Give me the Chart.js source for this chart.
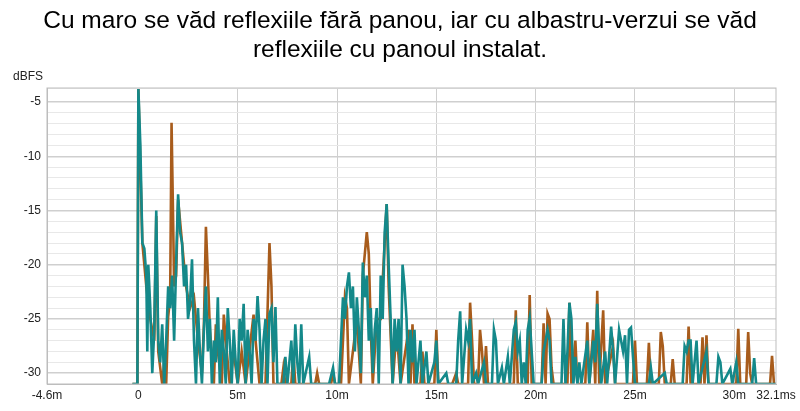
<!DOCTYPE html>
<html><head><meta charset="utf-8">
<script src="https://cdn.jsdelivr.net/npm/chart.js@4"></script>
<style>html,body{margin:0;padding:0;background:#fff}#w{width:800px;height:411px}</style>
</head><body><div id="w"><canvas id="c"></canvas></div>
<script>
const titleLines = ["Cu maro se văd reflexiile fără panou, iar cu albastru-verzui se văd","reflexiile cu panoul instalat."];
const yUnit = "dBFS";
const xTickValues = [-4.6,0,5,10,15,20,25,30,32.1];
const xTickLabels = ["-4.6m","0","5m","10m","15m","20m","25m","30m","32.1ms"];
const tealPoints = [[-0.3,-31],[-0.05,-31],[0,-3.8],[0.1,-9],[0.2,-18],[0.3,-18.5],[0.4,-21],[0.45,-28],[0.5,-20],[0.6,-24],[0.7,-30],[0.8,-26],[0.9,-15],[1,-27],[1.1,-29],[1.2,-25.5],[1.3,-31],[1.4,-27],[1.5,-22],[1.6,-24],[1.7,-21],[1.8,-27],[1.9,-20],[2,-13.5],[2.1,-17],[2.2,-18],[2.3,-22],[2.4,-20],[2.5,-25],[2.6,-23.5],[2.7,-19.5],[2.8,-27],[2.9,-31],[3,-24],[3.1,-28],[3.2,-31],[3.3,-26],[3.4,-22],[3.5,-28],[3.6,-25],[3.7,-31],[3.8,-27],[3.9,-29],[4,-23],[4.1,-31],[4.2,-26],[4.3,-28],[4.4,-31],[4.5,-24],[4.6,-27],[4.7,-31],[4.8,-26],[4.9,-29],[5,-31],[5.1,-25],[5.2,-27],[5.3,-23.6],[5.4,-31],[5.5,-26],[5.6,-28],[5.7,-31],[5.8,-25],[5.9,-27],[6,-22.9],[6.1,-26],[6.2,-31],[6.3,-27],[6.4,-25],[6.5,-31],[6.6,-24.5],[6.7,-24],[6.8,-29],[6.9,-23.9],[7,-31],[7.3,-31],[7.4,-28.5],[7.5,-31],[7.7,-27],[7.8,-31],[7.9,-25.5],[8,-29],[8.1,-31],[8.2,-25.5],[8.3,-31],[8.6,-28.5],[8.7,-31],[9.6,-31],[9.8,-29.5],[9.9,-31],[10.1,-31],[10.2,-27],[10.3,-23],[10.4,-25],[10.5,-22],[10.6,-20.7],[10.7,-24],[10.8,-22],[10.9,-28],[11,-23],[11.1,-26],[11.2,-30],[11.3,-19.8],[11.4,-23],[11.5,-21],[11.6,-27],[11.7,-24],[11.8,-30],[11.9,-26],[12,-24],[12.1,-31],[12.2,-21],[12.3,-25],[12.4,-17],[12.5,-14.4],[12.6,-20],[12.7,-25],[12.8,-31],[12.9,-25],[13,-28],[13.1,-25],[13.2,-31],[13.3,-20],[13.4,-22],[13.5,-25],[13.6,-31],[13.7,-26],[13.8,-29],[13.9,-26],[14,-31],[14.2,-27],[14.3,-31],[14.5,-28],[14.6,-31],[14.9,-29],[15,-27],[15.1,-31],[15.5,-30],[15.6,-31],[16,-31],[16.1,-27],[16.2,-24.3],[16.3,-31],[16.5,-26],[16.6,-27],[16.7,-25],[16.8,-31],[17,-30],[17.1,-31],[17.4,-29],[17.5,-31],[17.8,-31],[17.9,-26],[18,-27],[18.1,-31],[18.3,-29.5],[18.4,-31],[18.6,-28.5],[18.7,-31],[18.9,-26],[19,-25.3],[19.1,-28],[19.2,-27],[19.3,-31],[19.4,-29],[19.5,-31],[19.6,-26],[19.7,-24.9],[19.8,-28],[19.9,-31],[20.3,-31],[20.4,-28],[20.5,-27],[20.6,-26],[20.7,-27],[20.8,-31],[21.3,-31],[21.4,-25],[21.5,-31],[21.6,-28],[21.7,-23.5],[21.8,-25],[21.9,-31],[22,-28.5],[22.1,-31],[22.2,-29],[22.3,-31],[22.6,-27],[22.7,-31],[22.9,-27],[23,-29],[23.1,-23.6],[23.2,-28],[23.3,-31],[23.5,-28],[23.6,-31],[23.8,-25.7],[23.9,-28],[24,-31],[24.2,-26],[24.3,-27],[24.4,-28],[24.5,-26.5],[24.6,-31],[24.7,-26],[24.8,-25.8],[24.9,-28.5],[25,-31],[25.7,-31],[25.8,-29.5],[25.9,-31],[26.5,-30],[26.6,-31],[27.4,-31],[27.5,-27.5],[27.6,-28],[27.7,-27],[27.8,-27],[27.9,-31],[28.1,-27],[28.2,-31],[28.6,-28],[28.7,-31],[29.1,-31],[29.2,-28.5],[29.3,-29],[29.4,-31],[29.8,-29.6],[29.9,-31],[30.1,-29],[30.2,-31],[30.9,-31],[31,-28.6],[31.1,-31],[32.1,-31]];
const brownPoints = [[-0.3,-31],[-0.05,-31],[0,-3.8],[0.2,-18],[0.4,-22],[0.6,-25],[0.8,-27],[0.9,-15.5],[1,-28],[1.2,-31],[1.3,-29],[1.4,-31],[1.5,-24.8],[1.6,-23],[1.67,-6.9],[1.75,-16],[1.8,-22],[1.9,-21],[2,-14],[2.2,-18],[2.4,-22],[2.6,-24],[2.8,-23],[3,-27],[3.2,-30],[3.3,-25.5],[3.4,-16.5],[3.5,-21],[3.6,-26],[3.8,-31],[3.9,-25.5],[4,-28],[4.2,-31],[4.3,-24.6],[4.4,-27],[4.6,-31],[4.8,-28],[5,-31],[5.2,-28],[5.4,-31],[5.8,-24.6],[5.9,-27],[6.1,-31],[6.4,-31],[6.6,-18],[6.7,-22],[6.8,-31],[7.2,-31],[7.3,-29.5],[7.4,-31],[7.7,-31],[7.8,-28],[7.9,-31],[8.9,-31],[9,-30],[9.1,-31],[9.7,-31],[9.8,-30],[9.9,-31],[10.2,-31],[10.3,-27],[10.4,-23],[10.5,-24],[10.6,-31],[11,-25],[11.2,-31],[11.3,-21],[11.5,-17],[11.6,-19],[11.7,-26],[11.8,-31],[12,-25],[12.2,-25],[12.5,-14.4],[12.6,-22],[12.8,-31],[13,-26],[13.2,-31],[13.6,-26],[13.7,-31],[13.8,-25.5],[13.9,-31],[14.2,-31],[14.3,-28],[14.4,-31],[14.9,-31],[15,-26],[15.1,-31],[15.8,-31],[16,-30],[16.1,-31],[16.6,-31],[16.7,-23.5],[16.8,-27],[16.9,-31],[17.1,-31],[17.2,-26],[17.3,-28],[17.4,-31],[17.5,-27.5],[17.6,-31],[18.9,-31],[19,-24.2],[19.1,-31],[19.6,-31],[19.7,-22.8],[19.8,-31],[20.3,-31],[20.4,-25.4],[20.5,-31],[20.6,-24.5],[20.7,-25],[20.8,-29.5],[20.9,-31],[21.6,-31],[21.7,-23.5],[21.8,-31],[22,-27],[22.1,-31],[22.5,-31],[22.6,-25.3],[22.7,-31],[22.9,-26],[23,-31],[23.1,-22.4],[23.2,-31],[23.4,-24.2],[23.5,-31],[23.9,-27.5],[24,-31],[24.9,-31],[25,-27],[25.1,-31],[25.6,-31],[25.7,-27.2],[25.8,-31],[26.2,-31],[26.3,-26.2],[26.4,-27.5],[26.5,-31],[26.8,-31],[26.9,-28.7],[27,-31],[27.6,-31],[27.7,-25.7],[27.8,-31],[28.3,-31],[28.4,-26.7],[28.5,-31],[28.6,-26.5],[28.7,-31],[30.1,-31],[30.2,-25.9],[30.3,-31],[30.6,-31],[30.7,-26.2],[30.8,-30],[30.9,-31],[31.8,-31],[31.9,-28.4],[32,-31],[32.1,-31]];
const toXY = a => a.map(p => ({x:p[0], y:p[1]}));
const FONT = "'Liberation Sans', Arial, sans-serif";
const textPlugin = {id:'txt', afterDraw(ch){const c=ch.ctx;c.save();c.fillStyle='#000';c.textAlign='center';c.textBaseline='alphabetic';c.font='24.5px '+FONT;c.fillText(titleLines[0],400,28);c.fillText(titleLines[1],400,57);c.font='12px '+FONT;c.fillStyle='#222';c.textAlign='left';c.fillText(yUnit,13,80);c.restore();}};
new Chart(document.getElementById('c'), {
  type:'scatter',
  data:{datasets:[
    {data:toXY(tealPoints),showLine:true,borderColor:'#14898a',borderWidth:2.6,pointRadius:0,tension:0,order:1},
    {data:toXY(brownPoints),showLine:true,borderColor:'#a85c1c',borderWidth:2.6,pointRadius:0,tension:0,order:2}
  ]},
  options:{animation:false,responsive:true,maintainAspectRatio:false,
    layout:{padding:{top:88,right:24,left:0,bottom:0}},
    plugins:{legend:{display:false},tooltip:{enabled:false}},
    scales:{
      x:{type:'linear',min:-4.6,max:32.1,
        afterBuildTicks(ax){ax.ticks=xTickValues.map(v=>({value:v}));},
        afterFit(ax){ax.height=27;},
        ticks:{autoSkip:false,maxRotation:0,color:'#222',font:{family:FONT,size:12},padding:4,callback:(v)=>xTickLabels[xTickValues.indexOf(v)]},
        grid:{color:c=>[0,5,10,15,20,25,30].includes(c.tick.value)?'#cfcfcf':'rgba(0,0,0,0)',drawTicks:false},
        border:{color:'#bdbdbd',width:1}},
      y:{min:-31,max:-3.7,
        ticks:{stepSize:1,autoSkip:false,color:'#222',font:{family:FONT,size:12},padding:6,callback:v=>(Math.abs(v%5)<1e-9)?String(v):''},
        afterFit(ax){ax.width=47;},
        grid:{color:c=>(Math.abs(c.tick.value%5)<1e-9)?'#cfcfcf':'#e8e8e8',lineWidth:c=>(Math.abs(c.tick.value%5)<1e-9)?1.6:1,drawTicks:false},
        border:{color:'#bdbdbd',width:1}}
    }},
  plugins:[textPlugin, {id:'frame',afterDatasetsDraw(ch){const a=ch.chartArea,c=ch.ctx;c.save();c.strokeStyle='#bdbdbd';c.lineWidth=1;c.strokeRect(a.left,a.top,a.right-a.left,a.bottom-a.top);c.restore();}}]
});
</script></body></html>
